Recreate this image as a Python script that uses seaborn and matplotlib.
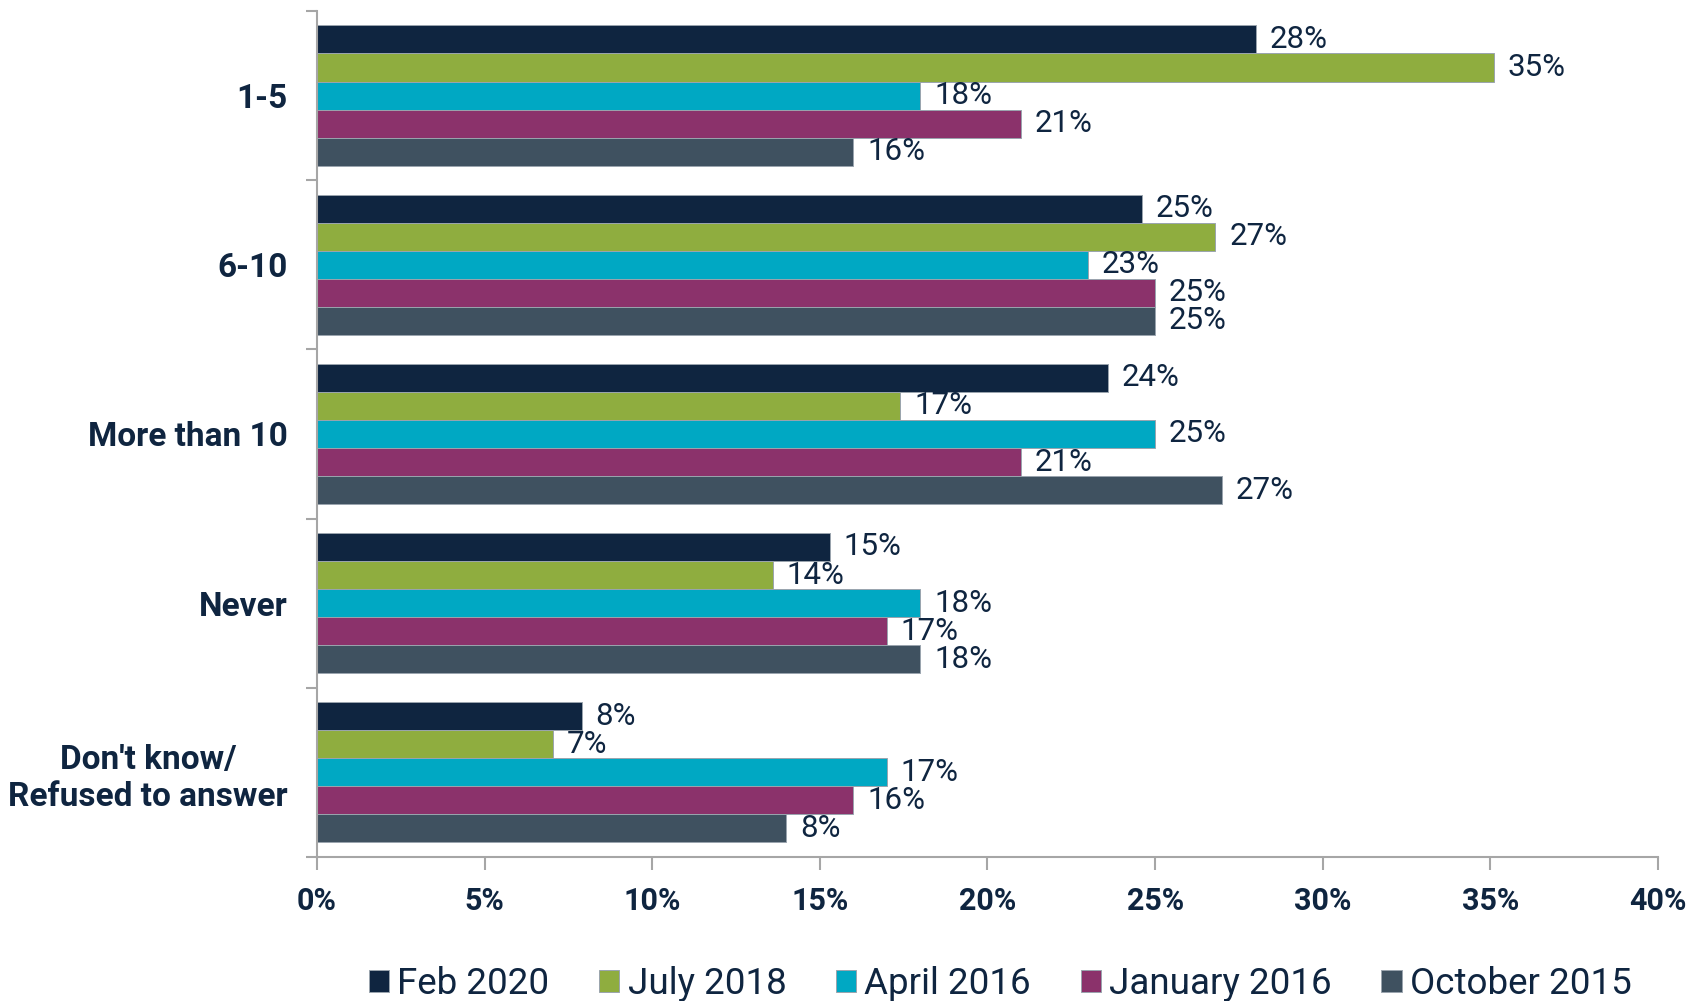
import numpy as np
import pandas as pd
import matplotlib
matplotlib.use("Agg")
import matplotlib.pyplot as plt
import seaborn as sns

# ---------------- data ----------------
categories = ["1-5", "6-10", "More than 10", "Never", "Don't know/\nRefused to answer"]
series = ["Feb 2020", "July 2018", "April 2016", "January 2016", "October 2015"]

feb_2020 = [28.0, 24.6, 23.6, 15.3, 7.9]
july_2018 = [35.1, 26.8, 17.4, 13.6, 7.05]
april_2016 = [18.0, 23.0, 25.0, 18.0, 17.0]
january_2016 = [21.0, 25.0, 21.0, 17.0, 16.0]
october_2015 = [16.0, 25.0, 27.0, 18.0, 14.0]

# printed data labels (as shown in the chart)
feb_2020_labels = ["28%", "25%", "24%", "15%", "8%"]
july_2018_labels = ["35%", "27%", "17%", "14%", "7%"]
april_2016_labels = ["18%", "23%", "25%", "18%", "17%"]
january_2016_labels = ["21%", "25%", "21%", "17%", "16%"]
october_2015_labels = ["16%", "25%", "27%", "18%", "8%"]

x_ticks = [0, 5, 10, 15, 20, 25, 30, 35, 40]
x_tick_labels = ["0%", "5%", "10%", "15%", "20%", "25%", "30%", "35%", "40%"]

colors = ["#0F2540", "#8FAD3F", "#00A8C3", "#8B326B", "#3F5160"]
text_color = "#0F2540"
axis_color = "#A6A6A6"

values = [feb_2020, july_2018, april_2016, january_2016, october_2015]
labels = [feb_2020_labels, july_2018_labels, april_2016_labels,
          january_2016_labels, october_2015_labels]

df = pd.DataFrame({
    "category": np.tile(categories, len(series)),
    "series": np.repeat(series, len(categories)),
    "value": np.concatenate(values),
})

# ---------------- fonts ----------------
sns.set_theme(style="white")
plt.rcParams["font.family"] = ["Roboto", "DejaVu Sans"]

fs_data = 22.5
fs_cat = 24
fs_xt = 22
fs_leg = 26.5

# ---------------- plot ----------------
fig = plt.figure(figsize=(17.04, 10.01), dpi=100)
ax = fig.add_axes([0.186, 0.144, 0.787, 0.845])

sns.barplot(data=df, y="category", x="value", hue="series",
            order=categories, hue_order=series, palette=colors,
            orient="h", width=0.83, dodge=True, ax=ax,
            edgecolor="#9AA4AE", linewidth=0.7, saturation=1, legend=True)

for cont, labs in zip(ax.containers, labels):
    ax.bar_label(cont, labels=labs, padding=10, fontsize=fs_data, color=text_color)

ax.set_xlim(0, 40)
ax.set_ylim(len(categories) - 0.5, -0.5)
ax.set_xticks(x_ticks)
ax.set_xticklabels(x_tick_labels, fontsize=fs_xt, fontweight="bold", color=text_color)
ax.set_yticks(range(len(categories)))
ax.set_yticklabels(categories, fontsize=fs_cat, fontweight="bold", color=text_color,
                   multialignment="center", linespacing=1.2)
ax.set_yticks(np.arange(-0.5, len(categories), 1.0), minor=True)
ax.tick_params(axis="y", which="major", length=0, pad=21)
ax.tick_params(axis="y", which="minor", length=8, width=1.5, color=axis_color, left=True)
ax.tick_params(axis="x", which="major", length=9, width=1.5, color=axis_color,
               pad=12, bottom=True)
ax.set_xlabel("")
ax.set_ylabel("")
ax.grid(False)

for s in ["top", "right"]:
    ax.spines[s].set_visible(False)
for s in ["left", "bottom"]:
    ax.spines[s].set_color(axis_color)
    ax.spines[s].set_linewidth(1.5)

handles, leg_labels = ax.get_legend_handles_labels()
ax.get_legend().remove()
fig.legend(handles, leg_labels, loc="center", bbox_to_anchor=(0.587, 0.017),
           ncol=5, frameon=False, fontsize=fs_leg, labelcolor=text_color,
           handlelength=0.55, handleheight=0.55, handletextpad=0.22,
           columnspacing=1.35, borderaxespad=0)

fig.savefig("out.png", dpi=100)
